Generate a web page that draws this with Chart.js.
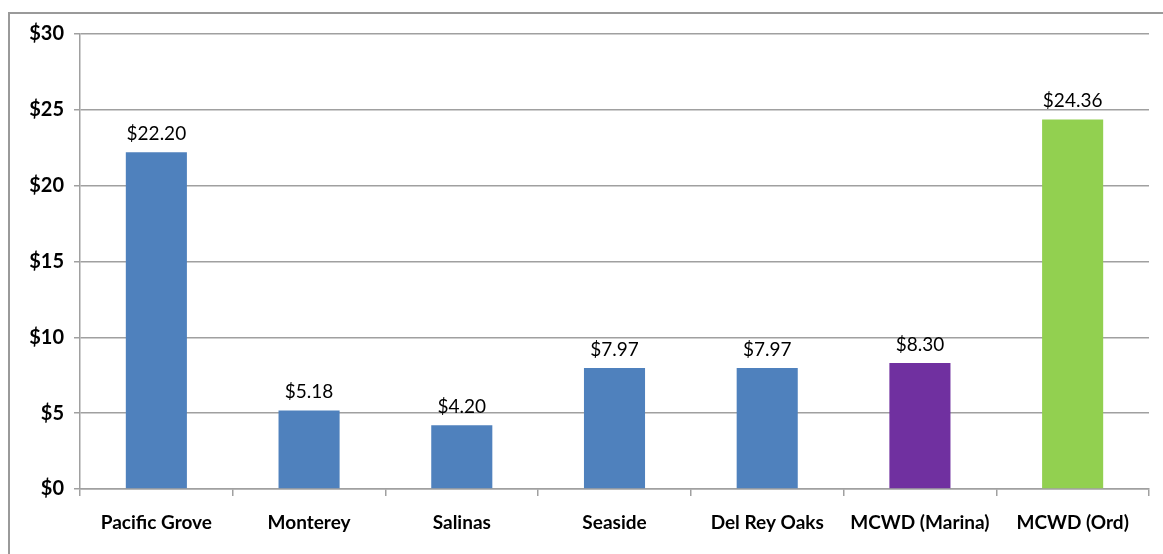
<!DOCTYPE html>
<html><head><meta charset="utf-8">
<script src="https://cdn.jsdelivr.net/npm/chart.js@4"></script>
<style>
html,body{margin:0;padding:0;background:#fff;overflow:hidden;}
#wrap{position:relative;width:1163px;height:554px;}
#frame{position:absolute;left:8px;top:12px;width:1170px;height:560px;border:2px solid #9a9a9a;box-sizing:border-box;}
canvas{position:absolute;left:0;top:0;}
</style></head>
<body><div id="wrap"><div id="frame"></div><canvas id="c" width="1163" height="554"></canvas></div>
<script>
const categories = ["Pacific Grove","Monterey","Salinas","Seaside","Del Rey Oaks","MCWD (Marina)","MCWD (Ord)"];
const values = [22.20, 5.18, 4.20, 7.97, 7.97, 8.30, 24.36];
const barColors = ["#4F81BD","#4F81BD","#4F81BD","#4F81BD","#4F81BD","#7030A0","#92D050"];
const yTicks = [0,5,10,15,20,25,30];

const valueLabels = {
  id:'valueLabels',
  afterDatasetsDraw(chart){
    const ctx = chart.ctx;
    const meta = chart.getDatasetMeta(0);
    ctx.save();
    ctx.font = '19px Lato';
    ctx.fillStyle = '#000';
    ctx.textAlign = 'center';
    ctx.textBaseline = 'bottom';
    meta.data.forEach((bar,i)=>{
      ctx.fillText('$' + values[i].toFixed(2), bar.x, bar.y - 9);
    });
    ctx.restore();
  }
};

new Chart(document.getElementById('c'), {
  type:'bar',
  data:{labels:categories, datasets:[{data:values, backgroundColor:barColors, barPercentage:0.4, categoryPercentage:1.0}]},
  options:{
    responsive:false, animation:false,
    layout:{padding:{left:0,right:14,top:34,bottom:0}},
    plugins:{legend:{display:false}, tooltip:{enabled:false}},
    scales:{
      x:{
        afterFit(s){ s.height = 65; },
        grid:{offset:true, drawOnChartArea:false, drawTicks:true, tickLength:7, color:'#a0a0a0', lineWidth:1.5},
        border:{color:'#a0a0a0', width:1.5},
        ticks:{color:'#000', font:{family:'Lato', size:19, weight:'bold'}, padding:15, maxRotation:0}
      },
      y:{
        min:0, max:30,
        afterFit(s){ s.width = 80; },
        afterBuildTicks(s){ s.ticks = yTicks.map(v=>({value:v})); },
        grid:{color:'#a0a0a0', lineWidth:1.5, tickLength:6},
        border:{color:'#a0a0a0', width:1.5},
        ticks:{color:'#000', font:{family:'Lato', size:20, weight:'bold'}, padding:10, callback:v=>'$'+v}
      }
    }
  },
  plugins:[valueLabels]
});
</script></body></html>
